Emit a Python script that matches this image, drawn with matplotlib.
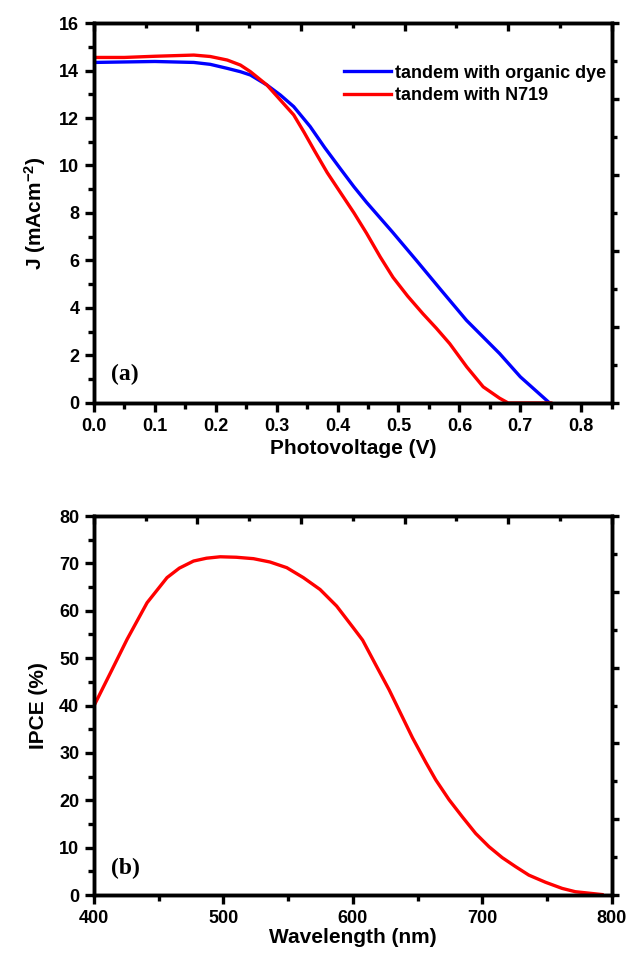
import matplotlib
matplotlib.use("Agg")
import matplotlib.pyplot as plt
from matplotlib.ticker import MultipleLocator, FormatStrFormatter

plt.rcParams["font.family"] = "Liberation Sans"
plt.rcParams["font.weight"] = "bold"
plt.rcParams["mathtext.fontset"] = "custom"
plt.rcParams["mathtext.rm"] = "Liberation Sans:bold"
plt.rcParams["mathtext.bf"] = "Liberation Sans:bold"
plt.rcParams["mathtext.default"] = "bf"

# J-V curves (panel a)
v_organic = [0.0, 0.05, 0.10, 0.164, 0.191, 0.219, 0.2405, 0.257, 0.284, 0.306, 0.328,
             0.355, 0.379, 0.405, 0.427, 0.4475, 0.49, 0.5295, 0.57, 0.6116, 0.64,
             0.666, 0.70, 0.748]
j_organic = [14.34, 14.36, 14.38, 14.34, 14.26, 14.09, 13.95, 13.81, 13.39, 12.97, 12.48,
             11.64, 10.75, 9.85, 9.1, 8.45, 7.2, 6.0, 4.75, 3.48, 2.75,
             2.08, 1.1, 0.0]
v_n719 = [0.0, 0.05, 0.10, 0.164, 0.191, 0.219, 0.2405, 0.257, 0.284, 0.306, 0.328,
          0.345, 0.3626, 0.383, 0.4037, 0.427, 0.4475, 0.47, 0.491, 0.515, 0.540,
          0.562, 0.584, 0.612, 0.639, 0.666, 0.68, 0.72, 0.75]
j_n719 = [14.55, 14.55, 14.6, 14.65, 14.59, 14.44, 14.23, 13.95, 13.39, 12.76, 12.13,
          11.4, 10.6, 9.7, 8.9, 8.0, 7.15, 6.15, 5.29, 4.5, 3.76,
          3.15, 2.5, 1.52, 0.68, 0.2, 0.0, 0.0, 0.0]

# IPCE spectrum (panel b)
wavelength = [400, 412.8, 425.7, 441.1, 456.5, 466, 477, 487, 497.6, 510, 523.3, 536, 549,
              561.8, 574.7, 587.5, 600.4, 607.6, 617.9, 628.1, 646.1, 656.4, 664.1,
              674.4, 684.6, 694.9, 705.2, 715.4, 725.7, 736, 748.8, 761.7, 771.9, 792.5]
ipce = [39.9, 46.9, 54.0, 61.7, 67.0, 69.0, 70.5, 71.1, 71.4, 71.3, 71.0, 70.3, 69.1,
        67.0, 64.5, 61.0, 56.4, 53.8, 48.5, 43.3, 33.2, 28.0, 24.3,
        20.1, 16.5, 13.0, 10.2, 7.9, 6.0, 4.2, 2.7, 1.4, 0.7, 0.1]

BLUE = "#0000ff"
RED = "#ff0000"
LW_SPINE = 2.4


def frame_ticks(ax):
    # top and right ticks in Origin style: evenly spaced tenths, no labels
    top = ax.twiny()
    top.set_xlim(0, 1)
    top.xaxis.set_major_locator(MultipleLocator(0.2))
    top.xaxis.set_minor_locator(MultipleLocator(0.1))
    top.tick_params(axis="x", which="both", direction="in", labeltop=False, width=LW_SPINE)
    top.tick_params(axis="x", which="major", length=6)
    top.tick_params(axis="x", which="minor", length=3.5)
    right = ax.twinx()
    right.set_ylim(0, 1)
    right.yaxis.set_major_locator(MultipleLocator(0.2))
    right.yaxis.set_minor_locator(MultipleLocator(0.1))
    right.tick_params(axis="y", which="both", direction="out", labelright=False, width=LW_SPINE)
    right.tick_params(axis="y", which="major", length=5)
    right.tick_params(axis="y", which="minor", length=3.5)
    for a in (top, right):
        for s in a.spines.values():
            s.set_linewidth(LW_SPINE)


def style_axes(ax):
    for s in ax.spines.values():
        s.set_linewidth(LW_SPINE)
    ax.tick_params(which="both", direction="out", width=LW_SPINE, labelsize=13,
                   top=False, right=False)
    ax.tick_params(which="major", length=6.5, pad=4)
    ax.tick_params(which="minor", length=4)
    for lab in ax.get_xticklabels() + ax.get_yticklabels():
        lab.set_fontweight("bold")
    frame_ticks(ax)


fig = plt.figure(figsize=(6.3, 9.59), dpi=100)

ax1 = fig.add_axes([0.149, 0.5798, 0.822, 0.3962])
ax1.plot(v_organic, j_organic, color=BLUE, lw=2.4, solid_joinstyle="round",
         label="tandem with organic dye")
ax1.plot(v_n719, j_n719, color=RED, lw=2.4, solid_joinstyle="round",
         label="tandem with N719")
ax1.set_xlim(0, 0.85)
ax1.set_ylim(0, 16)
ax1.xaxis.set_major_locator(MultipleLocator(0.1))
ax1.xaxis.set_minor_locator(MultipleLocator(0.05))
ax1.yaxis.set_major_locator(MultipleLocator(2))
ax1.yaxis.set_minor_locator(MultipleLocator(1))
ax1.xaxis.set_major_formatter(FormatStrFormatter("%.1f"))
ax1.set_xlabel("Photovoltage (V)", fontsize=15, fontweight="bold", labelpad=3)
ax1.set_ylabel(r"J (mAcm$^{-2}$)", fontsize=15, fontweight="bold", labelpad=8)
ax1.legend(loc="upper right", bbox_to_anchor=(1.0, 0.905), frameon=False, fontsize=13,
           handlelength=2.6, handletextpad=0.25, labelspacing=0.3, borderaxespad=0.0,
           borderpad=0.3)
ax1.text(0.033, 0.075, "(a)", transform=ax1.transAxes, fontsize=17, va="center",
         family="Liberation Serif", fontweight="bold")
style_axes(ax1)

ax2 = fig.add_axes([0.149, 0.0667, 0.822, 0.3952])
ax2.plot(wavelength, ipce, color=RED, lw=2.4, solid_joinstyle="round")
ax2.set_xlim(400, 800)
ax2.set_ylim(0, 80)
ax2.xaxis.set_major_locator(MultipleLocator(100))
ax2.xaxis.set_minor_locator(MultipleLocator(50))
ax2.yaxis.set_major_locator(MultipleLocator(10))
ax2.yaxis.set_minor_locator(MultipleLocator(5))
ax2.set_xlabel("Wavelength (nm)", fontsize=15, fontweight="bold", labelpad=1)
ax2.set_ylabel("IPCE (%)", fontsize=15, fontweight="bold", labelpad=8)
ax2.text(0.033, 0.071, "(b)", transform=ax2.transAxes, fontsize=17, va="center",
         family="Liberation Serif", fontweight="bold")
style_axes(ax2)

fig.savefig("out.png", dpi=100)
